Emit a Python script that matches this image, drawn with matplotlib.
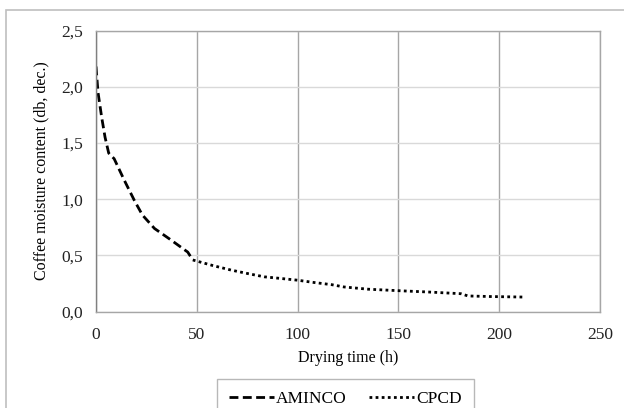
import matplotlib
matplotlib.use("Agg")
import matplotlib.pyplot as plt
from matplotlib.ticker import FuncFormatter
from matplotlib.patches import Rectangle

aminco_t = [0, 1, 2.8, 4.5, 6.3, 9, 14, 19, 23, 29, 37, 45.5, 48]
aminco_y = [2.18, 1.95, 1.73, 1.55, 1.41, 1.36, 1.17, 0.99, 0.86, 0.74, 0.64, 0.53, 0.46]
cpcd_t = [48, 50, 58, 67, 75, 83.5, 92, 100, 108, 117, 123, 135, 151, 165, 181, 184.5, 195, 212.7]
cpcd_y = [0.46, 0.45, 0.41, 0.37, 0.34, 0.31, 0.295, 0.28, 0.26, 0.24, 0.22, 0.20, 0.186, 0.175, 0.16, 0.14, 0.135, 0.13]

xticks = [0, 50, 100, 150, 200, 250]
yticks = [0.0, 0.5, 1.0, 1.5, 2.0, 2.5]

plt.rcParams['font.family'] = ['Liberation Serif', 'DejaVu Serif']

fig = plt.figure(figsize=(6.24, 4.08), dpi=100)
ax = fig.add_axes([96/624, (408-311.7)/408, (600-96)/624, (311.7-30.5)/408])

# figure border
fig.patches.append(Rectangle((6/624, -0.1), 1.2, (408-10)/408 + 0.1, transform=fig.transFigure,
                             fill=False, edgecolor='#bfbfbf', linewidth=1.2))

ax.plot(aminco_t, aminco_y, color='black', linestyle=(0, (3.2, 1.6)), linewidth=2.0, label='AMINCO')
ax.plot(cpcd_t, cpcd_y, color='black', linestyle=(0, (1, 1.2)), linewidth=2.0, label='CPCD')

ax.set_xlim(0, 250)
ax.set_ylim(0, 2.5)
ax.set_xticks(xticks)
ax.set_yticks(yticks)
ax.xaxis.set_major_formatter(FuncFormatter(lambda v, p: f"{v:.0f}"))
ax.yaxis.set_major_formatter(FuncFormatter(lambda v, p: f"{v:.1f}".replace('.', ',')))
ax.tick_params(length=0, labelsize=12.5, colors='#222222')
ax.tick_params(axis='x', pad=11)
ax.tick_params(axis='y', pad=9)

ax.grid(axis='x', color='#a6a6a6', linewidth=1.0)
ax.grid(axis='y', color='#d9d9d9', linewidth=1.0)
ax.set_axisbelow(True)
for s in ax.spines.values():
    s.set_color('#a6a6a6')
    s.set_linewidth(1.0)
ax.spines['left'].set_color('#808080')

ax.set_xlabel('Drying time (h)', fontsize=11.5, labelpad=5)
ax.set_ylabel('Coffee moisture content (db, dec.)', fontsize=11.5, labelpad=9)

leg = ax.legend(loc='upper left', bbox_to_anchor=(217/624, (408-379)/408), bbox_transform=fig.transFigure,
                ncol=2, frameon=True, fontsize=12.5, handlelength=2.6, handletextpad=0.1,
                columnspacing=1.3, borderpad=0.7, borderaxespad=0, fancybox=False)
leg.get_frame().set_edgecolor('#a6a6a6')
leg.get_frame().set_linewidth(1.0)

fig.savefig('out.png', dpi=100)
